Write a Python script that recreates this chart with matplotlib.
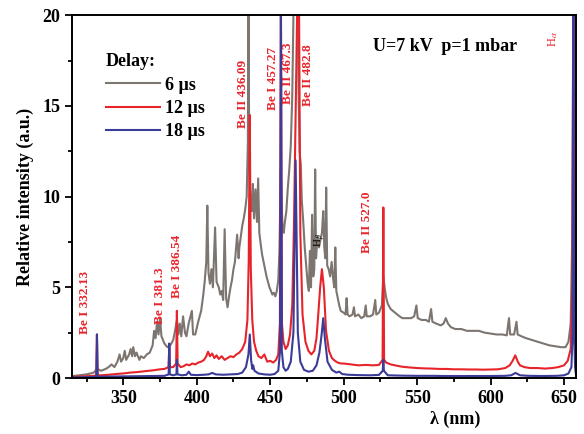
import matplotlib
matplotlib.use("Agg")
import matplotlib.pyplot as plt
from matplotlib.ticker import MultipleLocator

plt.rcParams['font.family'] = ['Liberation Serif', 'DejaVu Serif']
plt.rcParams['mathtext.fontset'] = 'stix'

# Spectra: wavelength (nm) and relative intensity
wl_6us = [315, 320, 325, 330, 332.1, 335, 338, 340, 342, 344, 346, 347.5, 348.5, 350, 351, 352,
          354, 355, 356, 356.8, 358, 359, 361, 362, 364, 366, 368, 370, 371, 372, 373, 374, 375,
          376, 378, 380, 382, 384, 385, 386.5, 387.5, 388.5, 389.5, 390.7, 392, 393, 394.5, 396.7,
          397.5, 399, 401, 403, 404.5, 405.5, 406.5, 407.2, 408, 409, 410, 411, 412.5, 413.5, 415,
          416, 417, 418, 419, 420, 421, 422, 423, 424, 425, 426, 427.5, 428.5, 429, 430, 431, 432,
          433, 434, 434.8, 435.2, 435.8, 436.5, 437.5, 438.2, 439, 440, 441, 441.8, 442.6, 443.5,
          444.5, 445.5, 446.5, 447.5, 448.5, 449.5, 450.5, 451.5, 452.5, 453.5, 454.5, 455.5, 456.3,
          457.2, 457.8, 458.5, 459.2, 460, 461, 462, 463, 464, 465, 466, 468.5, 469.3, 470, 470.8,
          471.5, 472.5, 473.5, 474.5, 475.5, 476.3, 477, 477.8, 478.5, 479.3, 480, 480.6, 481.2,
          482.2, 483.2, 484.2, 485.2, 486.1, 486.8, 487.5, 488.1, 488.8, 489.8, 490.8, 491.8, 492.8,
          493.6, 494.3, 495, 496, 497, 498, 500, 501.3, 502, 502.7, 504, 506, 507, 507.7, 510, 512,
          514, 515, 515.7, 518, 520, 521.5, 522.2, 524, 526, 527, 528, 529, 530, 532, 535, 538, 540,
          543, 546, 548, 549.5, 550.4, 553, 556, 558, 559.5, 560.4, 563, 566, 568, 569.5, 571, 573,
          576, 580, 584, 588, 592, 596, 600, 604, 608, 611, 612.5, 613.3, 616, 617.6, 618.4, 621,
          624, 628, 632, 636, 640, 644, 648, 651, 653, 654.5, 655.6, 656.3, 657, 658]
int_6us = [0.1, 0.15, 0.2, 0.3, 0.5, 0.4, 0.5, 0.6, 0.75, 0.6, 0.9, 1.3, 0.9, 1.1, 1.5, 1.0,
           1.3, 1.6, 1.2, 1.7, 1.2, 1.4, 1.0, 1.2, 1.1, 1.3, 1.4, 1.8, 2.6, 2.2, 3.1, 2.4, 3.3,
           2.3, 1.9, 1.7, 1.8, 2.1, 2.5, 3.2, 2.4, 3.0, 2.3, 3.4, 2.5, 2.3, 3.0, 3.7,
           2.4, 2.4, 3.1, 3.7, 4.6, 5.4, 6.4, 9.5, 5.8, 5.2, 6.0, 5.0, 8.3, 5.3, 5.0,
           4.6, 4.8, 4.3, 8.2, 4.4, 3.9, 4.5, 5.0, 5.4, 6.0, 6.4, 7.9, 6.6, 7.2, 7.8, 8.4, 8.8,
           9.3, 10.0, 13.0, 21.0, 11.5, 10.0, 9.2, 10.7, 8.8, 10.4, 8.6, 11.0, 8.0, 7.4,
           6.8, 6.4, 6.0, 5.6, 5.3, 5.0, 4.8, 4.6, 4.7, 4.5, 4.8, 5.4, 7.0,
           11.5, 9.5, 8.2, 8.0, 8.6, 9.2, 10.5, 11.5, 12.8, 15.5, 21.0, 21.0, 16.0, 12.5, 11.8,
           9.8, 8.6, 7.2, 6.2, 5.2, 4.8, 7.0, 5.0, 9.0, 5.6, 6.0, 11.5, 6.6,
           7.8, 7.2, 7.6, 8.0, 9.2, 7.2, 6.6, 10.5, 6.2, 6.0, 5.6, 6.4, 5.5,
           5.0, 7.2, 4.8, 4.4, 4.0, 3.7, 3.6, 3.5, 4.4, 3.5, 3.4, 3.5, 3.9, 3.4, 3.5, 3.3,
           3.4, 4.0, 3.4, 3.4, 3.5, 4.3, 3.5, 3.6, 4.0, 5.6, 4.9, 4.4, 4.1, 3.8, 3.6, 3.4, 3.3,
           3.3, 3.3, 3.4, 4.0, 3.3, 3.2, 3.2, 3.1, 3.8, 3.1, 3.0, 2.9, 3.0, 3.3, 3.0, 2.8,
           2.7, 2.7, 2.6, 2.6, 2.6, 2.5, 2.45, 2.4, 2.4, 2.35, 3.3, 2.4, 2.4, 3.1, 2.4, 2.3,
           2.2, 2.1, 2.0, 1.9, 1.8, 1.75, 1.7, 1.7, 2.0, 3.0, 8.0, 21.0, 8.0, 3.0]

wl_12us = [315, 320, 325, 330, 331.6, 332.1, 332.6, 335, 340, 345, 350, 355, 360, 365, 370, 375,
           378, 380.8, 381.3, 381.8, 384, 386.0, 386.5, 387.0, 389, 391, 393, 395, 397, 399, 401,
           403, 405, 406.5, 407.7, 409, 410.5, 412, 413.5, 415, 417, 419, 421, 423, 425, 427, 429,
           431, 433, 434.5, 435.4, 436.1, 436.8, 437.8, 439, 440.5, 442, 444, 446, 448, 450, 452,
           454, 455.5, 456.6, 457.3, 458, 459, 460.5, 462, 463.5, 465, 466.2, 468.5, 469.6, 470.5,
           472, 474, 476, 478, 480, 481.5, 482.8, 484, 485.2, 486.5, 488, 490, 492, 494, 496, 498,
           500, 505, 510, 515, 520, 524, 526.5, 527.0, 527.5, 529, 532, 536, 540, 545, 550, 555,
           560, 565, 570, 575, 580, 585, 590, 595, 600, 605, 610, 613, 615, 616.8, 618.5, 620, 623,
           627, 632, 637, 642, 646, 650, 652.5, 654.5, 655.6, 656.3, 657, 658]
int_12us = [0.05, 0.08, 0.1, 0.12, 0.15, 2.4, 0.15, 0.15, 0.18, 0.22, 0.25, 0.3, 0.33, 0.38, 0.42, 0.48,
            0.5, 0.6, 1.7, 0.6, 0.6, 0.8, 3.7, 0.8, 0.6, 0.65, 0.75, 0.7, 0.8, 0.75, 0.85,
            0.9, 1.0, 1.2, 1.45, 1.2, 1.35, 1.1, 1.25, 1.05, 1.2, 1.0, 1.1, 1.2, 1.15, 1.3, 1.4,
            1.6, 2.0, 3.2, 6.5, 14.5, 6.0, 3.2, 2.0, 1.5, 1.2, 1.1, 1.3, 0.9, 0.95, 0.85,
            1.0, 1.3, 3.0, 21.0, 3.0, 2.0, 1.6, 1.8, 2.4, 4.0, 8.5, 21.0, 21.0, 8.0,
            3.5, 2.0, 1.5, 1.3, 1.5, 2.2, 3.6, 5.0, 6.0, 5.0, 2.6, 1.5, 1.1, 0.95, 0.85, 0.8,
            0.8, 0.75, 0.7, 0.72, 0.7, 0.72, 1.0, 9.4, 1.0, 0.85, 0.75, 0.68, 0.62, 0.58, 0.55, 0.53,
            0.52, 0.5, 0.5, 0.48, 0.48, 0.47, 0.47, 0.46, 0.47, 0.48, 0.55, 0.7, 0.95, 1.25, 0.9, 0.7, 0.6,
            0.55, 0.55, 0.52, 0.55, 0.6, 0.7, 0.95, 1.6, 5.0, 21.0, 6.0, 2.0]

wl_18us = [315, 320, 325, 330, 331.7, 332.1, 332.5, 335, 340, 350, 360, 370, 378, 380.9, 381.3,
           381.7, 384, 386.2, 386.5, 386.9, 390, 393, 394.6, 396, 400, 405, 408, 410.5, 413, 418,
           423, 428, 431, 433.5, 435.2, 436.1, 437, 437.8, 438.4, 439.3, 442, 446, 450, 453, 455.5,
           456.7, 457.3, 457.9, 459, 460.5, 462, 464, 465.8, 467.3, 468.8, 470.5, 473, 476, 479, 481.5,
           483.5, 485, 486.1, 487.2, 489, 492, 495, 497, 499, 503, 510, 518, 524, 526.6, 527.0, 527.4,
           530, 540, 550, 560, 570, 580, 590, 600, 610, 614, 617, 620, 626, 635, 645, 650, 653,
           655, 655.8, 656.3, 656.8, 657.5, 658]
int_18us = [0.03, 0.04, 0.05, 0.06, 0.08, 2.4, 0.08, 0.07, 0.08, 0.09, 0.1, 0.11, 0.12, 0.2, 1.9,
            0.2, 0.15, 0.2, 1.0, 0.2, 0.15, 0.18, 0.35, 0.18, 0.16, 0.18, 0.2, 0.28, 0.2, 0.18,
            0.2, 0.22, 0.3, 0.6, 1.3, 2.4, 1.0, 0.5, 0.7, 0.4, 0.25, 0.2, 0.18, 0.22, 0.4,
            1.5, 21.0, 1.5, 0.6, 0.4, 0.5, 0.9, 2.5, 12.0, 2.5, 0.9, 0.45, 0.35, 0.4, 0.7,
            1.4, 2.4, 3.3, 2.2, 0.9, 0.45, 0.3, 0.35, 0.22, 0.18, 0.16, 0.15, 0.17, 0.4, 1.0, 0.4,
            0.15, 0.13, 0.12, 0.12, 0.11, 0.11, 0.11, 0.11, 0.12, 0.15, 0.28, 0.15, 0.12, 0.11, 0.12,
            0.15, 0.25, 0.6, 2.5, 21.0, 2.5, 0.6, 0.25]

delays = ["6 \u00b5s", "12 \u00b5s", "18 \u00b5s"]
colors = ["#7d7570", "#e8242b", "#3b3b98"]

# line identifications: text, x position (nm), bottom of text (intensity)
line_labels = ["Be I 332.13", "Be I 381.3", "Be I 386.54", "Be II 436.09",
               "Be I 457.27", "Be II 467.3", "Be II 482.8", "Be II 527.0"]
label_x = [323.9, 375.0, 386.6, 431.6, 452.0, 462.2, 475.9, 516.1]
label_y = [2.4, 3.0, 4.4, 13.8, 14.8, 15.1, 15.0, 6.9]

fig = plt.figure(figsize=(5.84, 4.34), dpi=100)
ax = fig.add_axes([0.123, 0.129, 0.863, 0.836])

series = [(wl_6us, int_6us), (wl_12us, int_12us), (wl_18us, int_18us)]
for (x, y), lab, c in zip(series, delays, colors):
    ax.plot(x, y, color=c, lw=1.5, label=lab)

for txt, lx, ly in zip(line_labels, label_x, label_y):
    ax.text(lx, ly, txt, rotation=90, ha='center', va='bottom', color='#e8242b',
            fontsize=9.5, fontweight='bold')

ax.text(642.2, 18.7, r"H$_\alpha$", rotation=90, ha='center', va='center', color='#e8242b', fontsize=9)
ax.text(484.0, 7.6, r"H$_\beta$", rotation=90, ha='center', va='center', color='black', fontsize=8)
ax.text(0.74, 0.915, "U=7 kV  p=1 mbar", transform=ax.transAxes, ha='center', va='center',
        fontsize=13, fontweight='bold')

ax.set_xlim(315, 658)
ax.set_ylim(0, 20)
ax.xaxis.set_major_locator(MultipleLocator(50))
ax.xaxis.set_minor_locator(MultipleLocator(25))
ax.yaxis.set_major_locator(MultipleLocator(5))
ax.yaxis.set_minor_locator(MultipleLocator(2.5))
ax.tick_params(which='both', direction='out', width=1.3)
ax.tick_params(which='major', length=5, labelsize=13)
ax.tick_params(which='minor', length=3)
for lbl in ax.get_xticklabels() + ax.get_yticklabels():
    lbl.set_fontweight('bold')
for sp in ax.spines.values():
    sp.set_linewidth(1.4)

ax.set_ylabel("Relative intensity (a.u.)", fontsize=13, fontweight='bold', labelpad=6)
ax.set_xlabel("\u03bb (nm)", fontsize=13, fontweight='bold', labelpad=4)
ax.xaxis.set_label_coords(0.76, -0.09)

leg = ax.legend(title="Delay:", loc='upper left', bbox_to_anchor=(0.035, 0.94), frameon=False,
                handlelength=3.0, labelspacing=0.35, handletextpad=0.3, alignment='left',
                prop={'weight': 'bold', 'size': 13}, title_fontproperties={'weight': 'bold', 'size': 13})

fig.savefig("out.png", dpi=100)
